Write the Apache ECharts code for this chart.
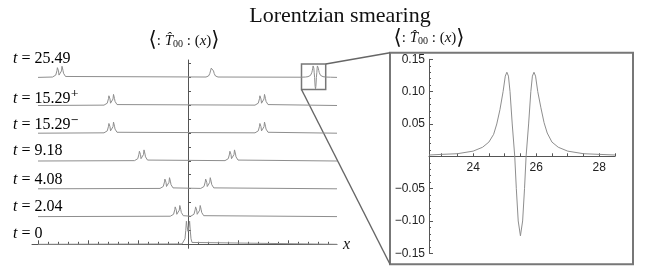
<!DOCTYPE html>
<html>
<head>
<meta charset="utf-8">
<script src="https://cdn.jsdelivr.net/npm/echarts@6/dist/echarts.min.js"></script>
<style>
  html, body { margin: 0; background: #fff; }
  #chart { width: 660px; height: 274px; }
</style>
</head>
<body>
<div id="chart"></div>
<script>
// ---- data ----
const TIME_LABELS = ['0', '2.04', '4.08', '9.18', '15.29', '15.29', '25.49']
const TIME_SUPS   = ['', '', '', '', '−', '+', '']

// pulse centres (x) and which pulse profile each one shows
const PULSES = [
  [[0, 'centre']],
  [[-2.04, 'pair'], [2.04, 'pair']],
  [[-4.1, 'pair'], [4.05, 'pair']],
  [[-9.2, 'pair'], [8.9, 'pair']],
  [[-15.3, 'pair'], [14.9, 'pair']],
  [[-15.3, 'pair'], [14.9, 'pair']],
  [[-25.6, 'pair'], [4.8, 'single']],
]
const TRACE_START = -30, TRACE_END = 29.8

// profiles: [offset from centre, value]
const PAIR_SHAPE = [
  [-1.5, 0.004], [-1.1, 0.01], [-0.85, 0.025], [-0.7, 0.045], [-0.6, 0.075], [-0.52, 0.105],
  [-0.45, 0.125], [-0.4, 0.12], [-0.3, 0.07], [-0.2, 0.025], [-0.1, 0.006], [0, 0.002],
  [0.1, 0.006], [0.2, 0.025], [0.3, 0.07], [0.4, 0.12], [0.45, 0.125], [0.52, 0.105],
  [0.6, 0.075], [0.7, 0.045], [0.85, 0.025], [1.1, 0.01], [1.5, 0.004],
]
const SINGLE_SHAPE = [
  [-1.2, 0.004], [-0.7, 0.015], [-0.45, 0.04], [-0.3, 0.07], [-0.15, 0.1], [0, 0.11],
  [0.15, 0.1], [0.3, 0.07], [0.45, 0.04], [0.7, 0.015], [1.2, 0.004],
]
const CENTRE_SHAPE = [
  [-1.2, 0.004], [-0.8, 0.02], [-0.6, 0.06], [-0.45, 0.15], [-0.32, 0.25], [-0.2, 0.2],
  [0, 0.14], [0.2, 0.2], [0.32, 0.25], [0.45, 0.15], [0.6, 0.06], [0.8, 0.02], [1.2, 0.004],
]

// the zoomed pulse (t = 25.49, right edge), also part of that trace
const INSET_X = [22.6, 23.0, 23.5, 24.0, 24.3, 24.5, 24.65, 24.75, 24.85, 24.95, 25.02, 25.07,
  25.12, 25.17, 25.24, 25.32, 25.37, 25.43, 25.5, 25.57, 25.63, 25.68, 25.76, 25.83, 25.88,
  25.93, 25.98, 26.05, 26.15, 26.25, 26.35, 26.5, 26.7, 27.0, 27.5, 28.0, 28.5]
const INSET_Y = [0.002, 0.003, 0.004, 0.008, 0.014, 0.022, 0.034, 0.05, 0.072, 0.1, 0.124, 0.13,
  0.124, 0.1, 0.05, 0, -0.05, -0.1, -0.123, -0.1, -0.05, 0, 0.05, 0.1, 0.124,
  0.13, 0.124, 0.1, 0.075, 0.052, 0.036, 0.022, 0.014, 0.008, 0.004, 0.003, 0.002]

const MAIN_MAJOR_TICKS = [-30, -20, -10, 10, 20]
const MAIN_MINOR_TICKS = [-28, -26, -24, -22, -18, -16, -14, -12, -8, -6, -4, -2,
  2, 4, 6, 8, 12, 14, 16, 18, 22, 24, 26, 28]
const VERT_TICKS = [14, 28, 42, 56, 70, 83, 97, 111, 125, 139, 153, 167, 181]
const INSET_X_TICKS = [23, 23.5, 24, 24.5, 25, 25.5, 26, 26.5, 27, 27.5, 28, 28.5]
const INSET_X_LABELS = [24, 26, 28]

// ---- layout ----
const BASE_Y  = [244.3, 216.6, 188.8, 161, 133.2, 105.5, 77.4]
const LABEL_Y = [233.3, 206.7, 179.3, 150.7, 125, 98.3, 58.3]
const LEFT = 32, WIDTH = 305
const TRACE_HALF = 27.75
const GREY = '#8e8e8e', AXIS = '#555', INK = '#111'

const SHAPES = { pair: PAIR_SHAPE, single: SINGLE_SHAPE, centre: CENTRE_SHAPE }
const insetCurve = INSET_X.map((x, i) => [x, INSET_Y[i]])

function traceData(i) {
  let pts = [[TRACE_START, 0], [TRACE_END, 0]]
  PULSES[i].forEach(([c, name]) => SHAPES[name].forEach(([dx, v]) => pts.push([c + dx, v])))
  if (i === PULSES.length - 1) pts = pts.concat(insetCurve)
  return pts.sort((a, b) => a[0] - b[0])
}

const T00_RICH = {
  br:  { fontFamily: 'DejaVu Serif', fontSize: 21, lineHeight: 26, color: INK },
  n:   { fontFamily: 'Liberation Serif', fontSize: 15, color: INK },
  it:  { fontFamily: 'Liberation Serif', fontStyle: 'italic', fontSize: 15, color: INK },
  sub: { fontFamily: 'Liberation Serif', fontSize: 10, lineHeight: 10, verticalAlign: 'bottom', padding: [0, 0, 5, 0], color: INK },
}
const T00_TEXT = '{br|⟨}{n|: }{it|T\u0302}{sub|00}{n| : (}{it|x}{n|)}{br|⟩}'

const chart = echarts.init(document.getElementById('chart'), null, { renderer: 'canvas' })

const grids = [{ left: LEFT, top: 60, width: WIDTH, height: 188.3 }]
const xAxes = [
  { gridIndex: 0, type: 'value', min: -31.2, max: 29.8,
    axisLine: { onZero: true, lineStyle: { color: AXIS, width: 1 } },
    axisTick: { inside: true, length: 4, customValues: MAIN_MAJOR_TICKS, lineStyle: { color: AXIS } },
    axisLabel: { show: false }, splitLine: { show: false },
    name: 'x', nameLocation: 'end', nameGap: 6,
    nameTextStyle: { fontFamily: 'Liberation Serif', fontStyle: 'italic', fontSize: 16, color: INK, verticalAlign: 'middle' } },
  { gridIndex: 0, type: 'value', min: -31.2, max: 29.8, position: 'bottom', offset: -4,
    axisLine: { show: false, onZero: false },
    axisTick: { inside: true, length: 2.5, customValues: MAIN_MINOR_TICKS, lineStyle: { color: AXIS } },
    axisLabel: { show: false }, splitLine: { show: false } },
]
const yAxes = [
  { gridIndex: 0, type: 'value', min: -4, max: 184.3,
    axisLine: { show: true, onZero: true, onZeroAxisIndex: 0, lineStyle: { color: AXIS, width: 1 } },
    axisTick: { show: true, inside: true, length: 3, customValues: VERT_TICKS, lineStyle: { color: AXIS } },
    axisLabel: { show: false }, splitLine: { show: false },
    name: T00_TEXT, nameLocation: 'end', nameGap: 6,
    nameTextStyle: { rich: T00_RICH, padding: [0, 8, 0, 0] } },
]
const series = []

BASE_Y.forEach((by, i) => {
  grids.push({ left: LEFT, width: WIDTH, top: by - TRACE_HALF, height: 2 * TRACE_HALF })
  xAxes.push({ gridIndex: i + 1, type: 'value', min: -31.2, max: 29.8, show: false })
  yAxes.push({ gridIndex: i + 1, type: 'value', min: -0.3, max: 0.3, show: false })
  series.push({
    type: 'line', xAxisIndex: i + 2, yAxisIndex: i + 1, data: traceData(i),
    showSymbol: false, lineStyle: { color: GREY, width: 1 }, silent: true, clip: false,
  })
})

// inset: the x axis sits at y = 0, i.e. half way up the 194px grid
const gi = grids.length
const INSET_H = 194
grids.push({ left: 429, top: 59.3, width: 186, height: INSET_H })
xAxes.push({ gridIndex: gi, type: 'value', min: 22.6, max: 28.5, position: 'bottom', offset: -INSET_H / 2,
  axisLine: { onZero: false, lineStyle: { color: AXIS, width: 1 } },
  axisTick: { inside: true, length: 3, customValues: INSET_X_TICKS, lineStyle: { color: AXIS } },
  axisLabel: { customValues: INSET_X_LABELS, margin: 5, fontFamily: 'Liberation Sans', fontSize: 12, color: '#222' },
  splitLine: { show: false } })
yAxes.push({ gridIndex: gi, type: 'value', min: -0.15, max: 0.15, interval: 0.05,
  axisLine: { show: true, onZero: false, lineStyle: { color: AXIS, width: 1 } },
  axisTick: { show: true, inside: true, length: 4, lineStyle: { color: AXIS } },
  minorTick: { show: true, splitNumber: 5, length: 2, lineStyle: { color: AXIS } },
  axisLabel: { margin: 4, fontFamily: 'Liberation Sans', fontSize: 12, color: '#222',
    formatter: v => Math.abs(v) < 1e-9 ? '' : (v < 0 ? '−' : '') + Math.abs(v).toFixed(2) },
  splitLine: { show: false },
  name: T00_TEXT, nameLocation: 'end', nameGap: 8, nameTextStyle: { rich: T00_RICH } })
series.push({
  type: 'line', xAxisIndex: xAxes.length - 1, yAxisIndex: yAxes.length - 1, data: insetCurve,
  showSymbol: false, lineStyle: { color: GREY, width: 1 }, silent: true,
})

const LABEL_RICH = {
  i:   { fontFamily: 'Liberation Serif', fontStyle: 'italic', fontSize: 16, lineHeight: 20, color: INK },
  n:   { fontFamily: 'Liberation Serif', fontSize: 16, lineHeight: 20, color: INK },
  sup: { fontFamily: 'DejaVu Serif', fontSize: 10, lineHeight: 10, verticalAlign: 'top', color: INK },
}

const graphic = TIME_LABELS.map((t, i) => ({
  type: 'text', x: 13, y: LABEL_Y[i], silent: true,
  style: {
    text: '{i|t}{n| = ' + t + '}' + (TIME_SUPS[i] ? '{sup|' + TIME_SUPS[i] + '}' : ''),
    rich: LABEL_RICH, verticalAlign: 'middle',
  },
}))
graphic.push(
  { type: 'rect', silent: true, shape: { x: 301.5, y: 64, width: 24.2, height: 25.5 },
    style: { fill: 'none', stroke: '#777', lineWidth: 1.5 } },
  { type: 'rect', silent: true, shape: { x: 390, y: 52.7, width: 243, height: 211.6 },
    style: { fill: 'none', stroke: '#777', lineWidth: 2 } },
  { type: 'line', silent: true, shape: { x1: 325.7, y1: 64, x2: 390, y2: 52.7 },
    style: { stroke: '#666', lineWidth: 1.4 } },
  { type: 'line', silent: true, shape: { x1: 301.5, y1: 89.5, x2: 390, y2: 264.3 },
    style: { stroke: '#666', lineWidth: 1.4 } },
)

chart.setOption({
  animation: false,
  backgroundColor: '#fff',
  title: {
    text: 'Lorentzian smearing', left: 335, top: 0, textAlign: 'center',
    textStyle: { fontFamily: 'Liberation Serif', fontWeight: 'normal', fontSize: 22, color: INK },
  },
  grid: grids,
  xAxis: xAxes,
  yAxis: yAxes,
  series,
  graphic,
})
</script>
</body>
</html>
